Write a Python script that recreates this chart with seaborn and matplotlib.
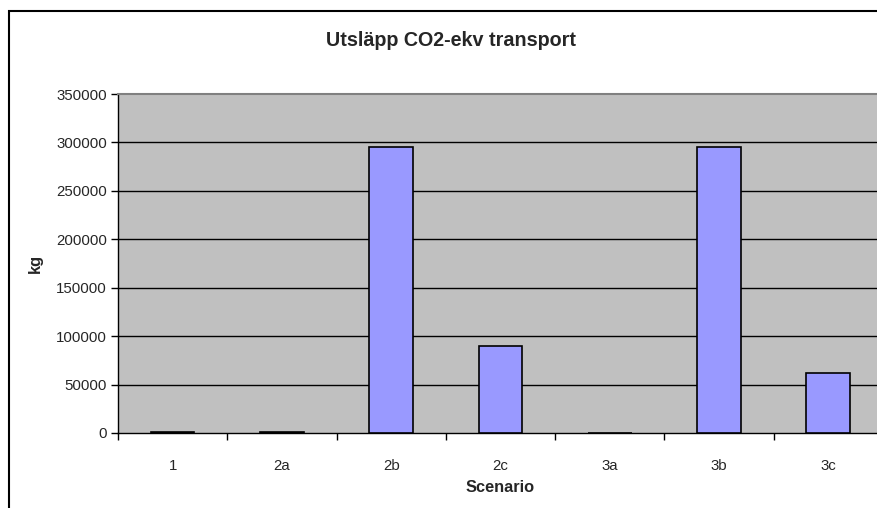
import matplotlib
matplotlib.use("Agg")
import matplotlib.pyplot as plt
import seaborn as sns
import pandas as pd
from matplotlib.patches import Rectangle

scenarios = ["1", "2a", "2b", "2c", "3a", "3b", "3c"]
emissions_kg = [1000, 1000, 295000, 90000, 0, 295000, 62000]
yticks = [0, 50000, 100000, 150000, 200000, 250000, 300000, 350000]

sns.set_theme(style="white")
plt.rcParams["font.family"] = ["Liberation Sans", "DejaVu Sans"]

W, H = 878, 508
fig = plt.figure(figsize=(W / 100, H / 100), dpi=100)
ax = fig.add_axes([118 / W, 1 - 433 / H, (883 - 118) / W, (433 - 94) / H])

df = pd.DataFrame({"Scenario": scenarios, "kg": emissions_kg})
sns.barplot(data=df, x="Scenario", y="kg", ax=ax, color="#9999FF",
            saturation=1, width=0.4, edgecolor="black", linewidth=1.2, zorder=3)

ax.set_facecolor("#C0C0C0")
ax.set_ylim(0, 350000)
ax.set_xlim(-0.5, len(scenarios) - 0.5)
ax.set_yticks(yticks)
ax.set_yticklabels([str(v) for v in yticks], fontsize=10.8)
ax.tick_params(axis="x", length=5, width=1, color="black", direction="out", bottom=True)
ax.tick_params(axis="y", length=5, width=1, color="black", direction="out", pad=3, left=True)
ax.set_xticks([i - 0.5 for i in range(len(scenarios) + 1)], minor=False)
ax.set_xticklabels([""] * (len(scenarios) + 1))
ax.set_xticks(range(len(scenarios)), minor=True)
ax.set_xticklabels(scenarios, minor=True, fontsize=10.8)
ax.tick_params(axis="x", which="minor", length=0, pad=19)

for v in yticks[1:-1]:
    ax.axhline(v, color="black", linewidth=1, zorder=1)

for s in ["left", "bottom"]:
    ax.spines[s].set_color("black")
    ax.spines[s].set_linewidth(1)
ax.spines["top"].set_color("#808080")
ax.spines["top"].set_linewidth(1.5)
ax.spines["right"].set_visible(False)

ax.set_xlabel("")
ax.set_ylabel("")
fig.text(500 / W, 1 - 487 / H, "Scenario", fontsize=11.8, fontweight="bold",
         ha="center", va="center")
fig.text(35 / W, 1 - 263 / H, "kg", fontsize=11.8, fontweight="bold",
         ha="center", va="center", rotation=90)
fig.text(451 / W, 1 - 41 / H, "Utsläpp CO2-ekv transport", fontsize=14.2,
         fontweight="bold", ha="center", va="center")

fig.patches.append(Rectangle((8.5 / W, -0.1), 1.2, 1 - 11.5 / H + 0.1,
                             transform=fig.transFigure, fill=False,
                             edgecolor="black", linewidth=1.5))

fig.savefig("out.png", dpi=100)
